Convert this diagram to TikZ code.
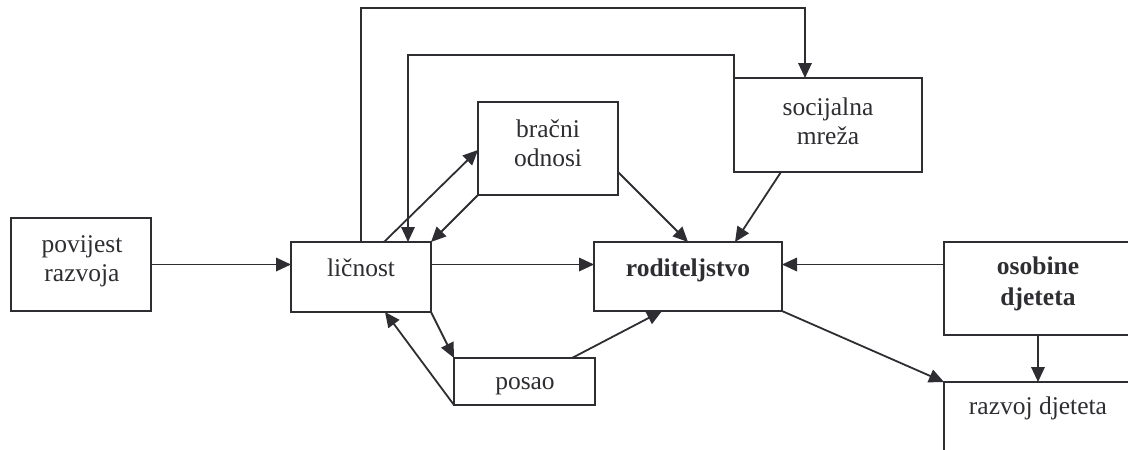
\documentclass[tikz,border=0pt]{standalone}
\usepackage{fontspec}
\setmainfont{Liberation Serif}
\usetikzlibrary{arrows.meta}
\definecolor{ink}{RGB}{45,45,50}
\begin{document}
\begin{tikzpicture}[x=1pt,y=-1pt,
  boxnode/.style={draw=ink,line width=1.9pt,inner sep=0pt,outer sep=0pt,rectangle},
  txt/.style={text=ink,font=\fontsize{25.5}{29}\selectfont,align=center,inner sep=0pt},
  btxt/.style={txt,font=\fontsize{25.5}{31}\selectfont\bfseries},
  arr/.style={draw=ink,line width=1.8pt,-{Triangle[length=15pt,width=13.5pt]}},
  ln/.style={draw=ink,line width=1.8pt}]
\useasboundingbox (0,0) rectangle (1128,450);
\clip (0,0) rectangle (1128,450);
% boxes
\node[boxnode,minimum width=140pt,minimum height=93pt] (pov) at (81,264.5) {};
\node[boxnode,minimum width=140pt,minimum height=70pt] (lic) at (361,277) {};
\node[boxnode,minimum width=140pt,minimum height=93pt] (bra) at (548,148.5) {};
\node[boxnode,minimum width=188pt,minimum height=94pt] (soc) at (828,125) {};
\node[boxnode,minimum width=188pt,minimum height=69pt] (rod) at (688,276.5) {};
\node[boxnode,minimum width=188pt,minimum height=93pt] (oso) at (1038,288.5) {};
\node[boxnode,minimum width=141pt,minimum height=47pt] (pos) at (524.5,381.5) {};
\node[boxnode,minimum width=188pt,minimum height=100pt] (raz) at (1038,432) {};
% texts
\node[txt] (povt) at (82,261.5) {povijest\\razvoja};
\node[txt] (lict) at (361,268) {ličnost};
\node[txt] (brat) at (548,143) {bračni\\odnosi};
\node[txt] (soct) at (828,121) {socijalna\\mreža};
\node[btxt] (rodt) at (688,270) {roditeljstvo};
\node[btxt] (osot) at (1038,284) {osobine\\djeteta};
\node[txt] (post) at (525,386) {posao};
\node[txt] (razt) at (1038,408) {razvoj djeteta};
% connectors
\draw[arr] (pov.east) -- (pov.east -| lic.west);
\draw[arr] (lic.east |- pov.east) -- (rod.west |- pov.east);
\draw[arr] (oso.west |- pov.east) -- (rod.east |- pov.east);
\draw[arr] (lic.north) -- (lic.north |- 0,8) -| ([xshift=-23pt]soc.north);
\draw[arr] (soc.north west) -- (soc.north west |- 0,55) -| ([xshift=47pt]lic.north);
\draw[arr] ([xshift=23pt]lic.north) -- ([yshift=-1.5pt]bra.west);
\draw[arr] (bra.south west) -- (lic.north east);
\draw[arr] ([yshift=-23.5pt]bra.east) -- (rod.north);
\draw[arr] ([xshift=-47pt]soc.south) -- ([xshift=47pt]rod.north);
\draw[arr] (lic.south east) -- (pos.north west);
\draw[arr] (pos.south west) -- ([xshift=24pt]lic.south);
\draw[arr] ([xshift=47.5pt]pos.north) -- ([xshift=-26pt]rod.south);
\draw[arr] (rod.south east) -- (raz.north west);
\draw[arr] (oso.south) -- (raz.north);
\end{tikzpicture}
\end{document}
